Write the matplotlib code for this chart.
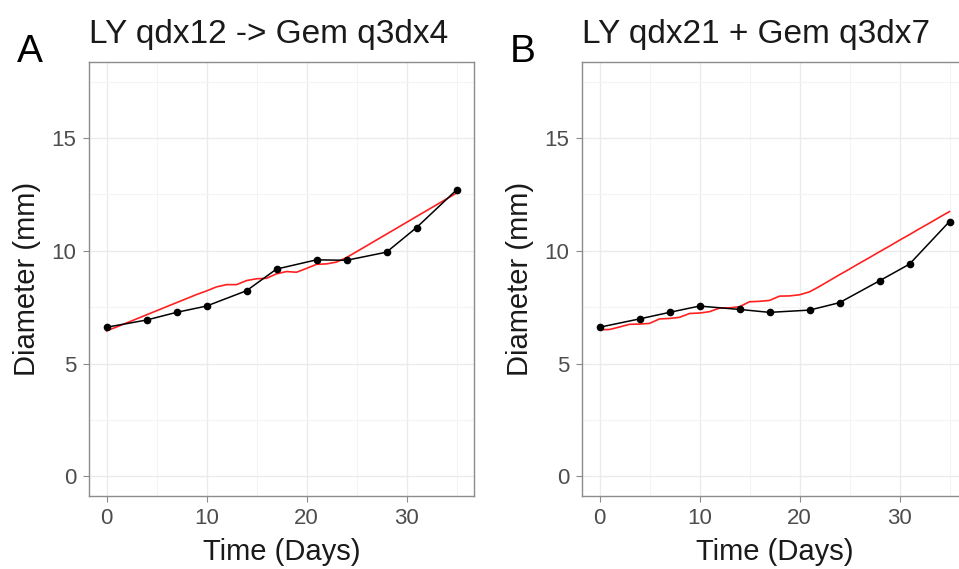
import matplotlib.pyplot as plt
import numpy as np

plt.rcParams['font.family'] = ['Liberation Sans', 'DejaVu Sans']

# observed tumour diameter (mm)
days_obs = [0, 4, 7, 10, 14, 17, 21, 24, 28, 31, 35]
obs_a = [6.61, 6.93, 7.27, 7.55, 8.23, 9.19, 9.60, 9.58, 9.94, 11.03, 12.70]
obs_b = [6.61, 6.98, 7.27, 7.55, 7.40, 7.27, 7.37, 7.70, 8.67, 9.41, 11.30]

# model prediction, daily
days_fit = list(range(36))
fit_a = [6.45, 6.62, 6.80, 6.98, 7.16, 7.34, 7.52, 7.70, 7.88, 8.06, 8.22, 8.40,
         8.50, 8.50, 8.68, 8.76, 8.78, 8.98, 9.08, 9.05, 9.22, 9.40, 9.42, 9.50,
         9.70, 9.96, 10.22, 10.48, 10.74, 11.00, 11.26, 11.52, 11.78, 12.04, 12.30, 12.56]
fit_b = [6.50, 6.51, 6.62, 6.74, 6.75, 6.78, 6.98, 7.00, 7.05, 7.22, 7.24, 7.30,
         7.46, 7.47, 7.52, 7.74, 7.76, 7.80, 7.99, 8.00, 8.05, 8.18, 8.42, 8.68,
         8.94, 9.19, 9.45, 9.70, 9.96, 10.21, 10.47, 10.72, 10.98, 11.23, 11.49, 11.74]

titles = ['LY qdx12 -> Gem q3dx4', 'LY qdx21 + Gem q3dx7']
tags = ['A', 'B']

fig = plt.figure(figsize=(9.59, 5.69), dpi=100)
W, H = 959, 569
boxes = [(89, 62, 385, 434), (582, 62, 385, 434)]

for i, (obs, fit) in enumerate([(obs_a, fit_a), (obs_b, fit_b)]):
    x0, y0, w, h = boxes[i]
    ax = fig.add_axes([x0 / W, (H - y0 - h) / H, w / W, h / H])
    ax.plot(days_fit, fit, color='#FF2020', lw=1.2, zorder=3)
    ax.plot(days_obs, obs, color='black', lw=1.1, marker='o', ms=4.5, zorder=4)

    ax.set_xlim(-1.75, 36.75)
    ax.set_ylim(-0.875, 18.375)
    ax.set_xticks([0, 10, 20, 30])
    ax.set_yticks([0, 5, 10, 15])
    ax.set_xticks([5, 15, 25, 35], minor=True)
    ax.set_yticks([2.5, 7.5, 12.5, 17.5], minor=True)
    ax.grid(which='major', color='#EBEBEB', lw=1.0)
    ax.grid(which='minor', color='#F4F4F4', lw=0.8)
    ax.set_axisbelow(True)
    for s in ax.spines.values():
        s.set_color('#8C8C8C')
        s.set_linewidth(1.0)
    ax.tick_params(which='major', length=4, color='#8C8C8C', labelsize=16,
                   labelcolor='#4D4D4D', pad=5)
    ax.tick_params(which='minor', length=0)
    ax.set_xlabel('Time (Days)', fontsize=21, color='#1A1A1A', labelpad=6)
    ax.set_ylabel('Diameter (mm)', fontsize=21, color='#1A1A1A', labelpad=8)
    ax.set_title(titles[i], loc='left', fontsize=24, color='#1A1A1A', pad=14)
    fig.text((x0 - 72) / W, 1 - 62 / H, tags[i], fontsize=28, color='black')

fig.savefig('out.png', dpi=100)
